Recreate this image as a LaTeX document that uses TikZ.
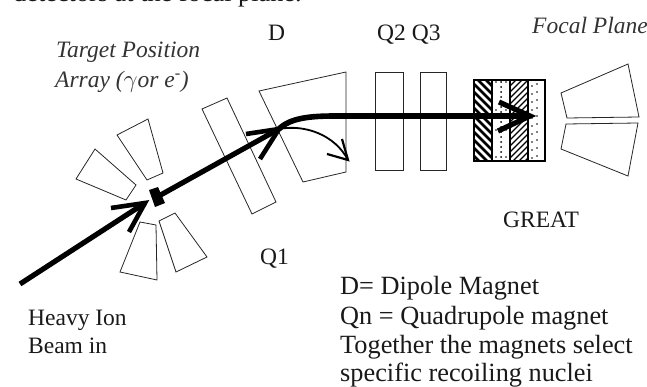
\documentclass[tikz,border=0pt]{standalone}
\usepackage{fontspec}
\setmainfont{Liberation Serif}
\usetikzlibrary{arrows.meta}
\tikzset{
  outl/.style={draw=black!85,line width=0.8pt,line join=miter,fill=white},
  lbl/.style={anchor=base west,inner sep=0pt,font=\fontsize{23.5}{26}\selectfont,text=black!90},
  big/.style={anchor=base west,inner sep=0pt,font=\fontsize{26.3}{30}\selectfont,text=black!90},
  ital/.style={anchor=base west,inner sep=0pt,font=\itshape\fontsize{23.5}{26}\selectfont,text=black!80},
  beam/.style={line width=5.2pt,line cap=butt},
  barb/.style={line width=4.6pt,line cap=butt},
  thinb/.style={line width=2.2pt,line cap=butt}
}
\begin{document}
\begin{tikzpicture}[x=1pt,y=-1pt]
\useasboundingbox (0,0) rectangle (647,387);
\clip (0,0) rectangle (647,387);
% array detectors
\draw[outl] (117,135)--(148,119)--(163,173)--(147,180)--cycle;
\draw[outl] (95,149)--(136,185)--(126,200)--(76,179)--cycle;
\draw[outl] (140,222)--(156,225)--(157,280)--(120,272)--cycle;
\draw[outl] (159,221)--(175,213)--(207,257)--(176,272)--cycle;
% magnets
\draw[outl] (202,109)--(227,98)--(276,202)--(252,214)--cycle;
\draw[outl] (259,91)--(346,72)--(346,172)--(303,182)--cycle;
\draw[outl] (375,72) rectangle (403,170);
\draw[outl] (420,72) rectangle (446,170);
% GREAT
\begin{scope}
\clip (474,80) rectangle (492,161);
\foreach \k in {0,8,...,104}
  \draw[line width=2.6pt] (474,60+\k) -- (492,78+\k);
\end{scope}
\begin{scope}
\foreach \yy in {82,87,...,160} \fill (501,\yy) circle (1pt);
\foreach \yy in {82,110,130,157} \foreach \xx in {496,506} \fill (\xx,\yy) circle (0.8pt);
\end{scope}
\begin{scope}
\clip (510,80) rectangle (528,161);
\foreach \k in {0,6,...,108}
  \draw[line width=1.2pt] (510,80+\k) -- (528,62+\k);
\end{scope}
\foreach \yy in {84,92,...,156} {\fill (532,\yy+2) circle (0.9pt); \fill (537,\yy) circle (0.9pt);}
\draw[line width=1.3pt] (474,80) rectangle (545,161);
\draw[line width=1.3pt] (492,80)--(492,161) (510,80)--(510,161) (528,80)--(528,161);
% focal plane detectors
\draw[outl] (561,93)--(628,64)--(639,117)--(567,118)--cycle;
\draw[outl] (566,124)--(638,123)--(628,176)--(561,149)--cycle;
% beams
\coordinate (bstart) at (20,284);
\coordinate (btip) at (145,203);
\coordinate (bb1) at (111,208);
\coordinate (bb2) at (129,232);
\coordinate (tcentre) at (157,197);
\coordinate (rtip) at (279,129);
\coordinate (rb1) at (246,134);
\coordinate (rb2) at (260,159);
\coordinate (ftip) at (530,116);
\coordinate (fb1) at (499,102);
\coordinate (fb2) at (498,131);
\coordinate (dtip) at (348,160);
\coordinate (db1) at (342,139);
\coordinate (db2) at (327,154);
\draw[beam] (bstart) -- (btip);
\draw[barb] (bb1) -- (btip) -- (bb2);
\fill (149,190)--(158,187)--(165,203)--(155,207)--cycle;
\draw[beam] (tcentre) -- (rtip);
\draw[barb] (rb1) -- (rtip) -- (rb2);
\draw[line width=5.6pt] (rtip) .. controls (290,118) and (310,116) .. (335,116) -- (ftip);
\draw[line width=5.2pt] (fb1) -- (ftip) -- (fb2);
\draw[line width=1.8pt] (rtip) .. controls (305,124) and (335,135) .. (dtip);
\draw[thinb] (db1) -- (dtip) -- (db2);
% texts
\node[big] (top) at (13,2) {detectors at the focal plane.};
\node[ital] (t1) at (56,58) {Target Position};
\node[ital] (t2) at (55,88) {Array ($\gamma$or e\textsuperscript{-})};
\node[lbl] (d) at (268,41) {D};
\node[lbl] (q23) at (377,41) {Q2 Q3};
\node[ital] (fp) at (532,34) {Focal Plane};
\node[lbl] (gr) at (503,227) {GREAT};
\node[lbl] (q1) at (260,264) {Q1};
\node[lbl] (h1) at (28,325) {Heavy Ion};
\node[lbl] (h2) at (28,353) {Beam in};
\node[big] (n1) at (340,294) {D= Dipole Magnet};
\node[big] (n2) at (340,324) {Qn = Quadrupole magnet};
\node[big] (n3) at (340,353) {Together the magnets select};
\node[big] (n4) at (340,381) {specific recoiling nuclei};
\end{tikzpicture}
\end{document}
